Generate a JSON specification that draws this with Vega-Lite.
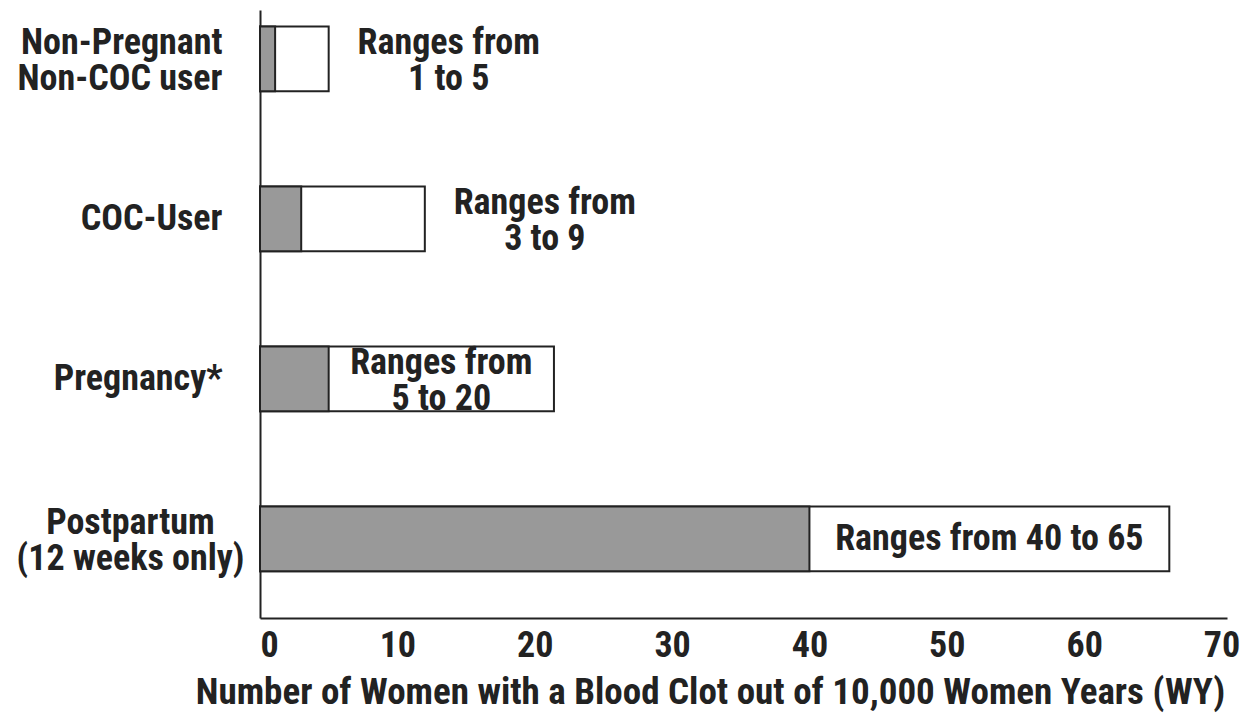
{
  "$schema": "https://vega.github.io/schema/vega-lite/v6.json",
  "autosize": {"type": "none"},
  "width": 967,
  "height": 608,
  "padding": {"left": 260, "top": 10, "right": 23, "bottom": 99},
  "background": "white",
  "config": {
    "view": {"stroke": null},
    "font": "Roboto Condensed"
  },
  "data": {
    "values": [
      {"group": "Non-Pregnant|Non-COC user", "low": 1.1, "high": 5, "label": "Ranges from|1 to 5"},
      {"group": "COC-User", "low": 3, "high": 12, "label": "Ranges from|3 to 9"},
      {"group": "Pregnancy*", "low": 5, "high": 21.4, "label": "Ranges from|5 to 20"},
      {"group": "Postpartum|(12 weeks only)", "low": 40, "high": 66.2, "label": "Ranges from 40 to 65"}
    ]
  },
  "encoding": {
    "y": {
      "field": "group",
      "type": "nominal",
      "sort": null,
      "scale": {"paddingInner": 0.594, "paddingOuter": 0.197, "align": 0.26},
      "axis": {
        "title": null,
        "ticks": false,
        "domainColor": "#222222",
        "domainWidth": 2,
        "labelExpr": "split(datum.label, '|')",
        "labelFont": "Roboto Condensed",
        "labelFontSize": 36,
        "labelFontWeight": "bold",
        "labelColor": "#222222",
        "labelLineHeight": 36,
        "labelPadding": {"condition": {"test": "indexof(datum.value, 'Postpartum') == 0", "value": 130}, "value": 38},
        "labelAlign": {"condition": {"test": "indexof(datum.value, 'Postpartum') == 0", "value": "center"}, "value": "right"},
        "labelOffset": {"condition": {"test": "indexof(datum.value, '|') >= 0", "value": -16}, "value": 0},
        "labelLimit": 400,
        "labelBaseline": "middle"
      }
    }
  },
  "layer": [
    {
      "mark": {"type": "bar", "fill": "white", "stroke": "#222222", "strokeWidth": 2},
      "encoding": {
        "x": {
          "field": "high",
          "type": "quantitative",
          "scale": {"domain": [0, 70.4], "nice": false},
          "axis": {
            "title": "Number of Women with a Blood Clot out of 10,000 Women Years (WY)",
            "values": [0, 10, 20, 30, 40, 50, 60, 70],
            "grid": false,
            "ticks": false,
            "domainColor": "#222222",
            "domainWidth": 2,
            "labelFont": "Roboto Condensed",
            "labelFontSize": 36,
            "labelFontWeight": "bold",
            "labelColor": "#222222",
            "labelPadding": 27,
            "labelBaseline": "middle",
            "titleFont": "Roboto Condensed",
            "titleFontSize": 37,
            "titleFontWeight": "bold",
            "titleColor": "#222222",
            "titleX": 450,
            "titleY": 74,
            "titleBaseline": "middle"
          }
        }
      }
    },
    {
      "mark": {"type": "bar", "fill": "#999999", "stroke": "#222222", "strokeWidth": 2},
      "encoding": {
        "x": {"field": "low", "type": "quantitative"}
      }
    },
    {
      "transform": [{"filter": "datum.high - datum.low < 12"}],
      "mark": {"type": "text", "align": "center", "baseline": "middle", "dx": 120, "dy": -16, "font": "Roboto Condensed", "fontSize": 36, "fontWeight": "bold", "color": "#222222", "lineBreak": "|", "lineHeight": 36},
      "encoding": {
        "x": {"field": "high", "type": "quantitative"},
        "text": {"field": "label"}
      }
    },
    {
      "transform": [
        {"filter": "datum.high - datum.low >= 12 && indexof(datum.label, '|') >= 0"},
        {"calculate": "(datum.low + datum.high) / 2", "as": "mid"}
      ],
      "mark": {"type": "text", "align": "center", "baseline": "middle", "dy": -16, "font": "Roboto Condensed", "fontSize": 36, "fontWeight": "bold", "color": "#222222", "lineBreak": "|", "lineHeight": 36},
      "encoding": {
        "x": {"field": "mid", "type": "quantitative"},
        "text": {"field": "label"}
      }
    },
    {
      "transform": [
        {"filter": "datum.high - datum.low >= 12 && indexof(datum.label, '|') < 0"},
        {"calculate": "(datum.low + datum.high) / 2", "as": "mid"}
      ],
      "mark": {"type": "text", "align": "center", "baseline": "middle", "font": "Roboto Condensed", "fontSize": 36, "fontWeight": "bold", "color": "#222222"},
      "encoding": {
        "x": {"field": "mid", "type": "quantitative"},
        "text": {"field": "label"}
      }
    }
  ]
}
